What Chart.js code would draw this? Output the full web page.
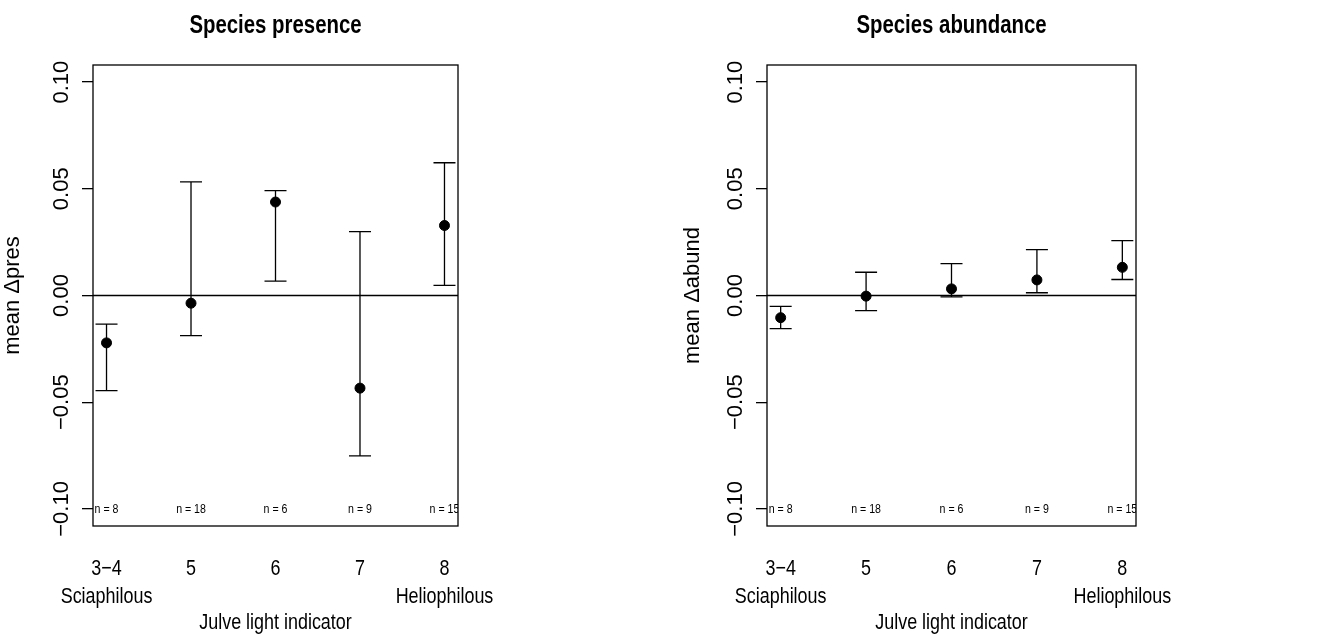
<!DOCTYPE html>
<html>
<head>
<meta charset="utf-8">
<script src="https://cdn.jsdelivr.net/npm/chart.js@4/dist/chart.umd.min.js"></script>
<style>
  body { margin: 0; background: #fff; }
  .panel { position: absolute; top: 0; height: 635px; }
  #leftBox { left: 0; width: 658px; }
  #rightBox { left: 658px; width: 659px; }
</style>
</head>
<body>
<div class="panel" id="leftBox"><canvas id="presChart"></canvas></div>
<div class="panel" id="rightBox"><canvas id="abundChart"></canvas></div>
<script>
// Light indicator classes
const xTicks = [1, 2, 3, 4, 5];
const xLabels = [['3\u22124', 'Sciaphilous'], ['5', ''], ['6', ''], ['7', ''], ['8', 'Heliophilous']];
const yTicks = [-0.1, -0.05, 0, 0.05, 0.1];
const nLabels = ['n = 8', 'n = 18', 'n = 6', 'n = 9', 'n = 15'];
const nLabelY = -0.1;

// Species presence (mean delta + interval)
const presMean = [-0.0222, -0.0036, 0.0438, -0.0434, 0.0328];
const presLow  = [-0.0446, -0.0188, 0.0067, -0.0751, 0.0047];
const presHigh = [-0.0134, 0.0532, 0.0491, 0.0299, 0.0622];

// Species abundance
const abundMean = [-0.0104, -0.0003, 0.0031, 0.0073, 0.0132];
const abundLow  = [-0.0155, -0.0071, -0.0006, 0.0013, 0.0075];
const abundHigh = [-0.0051, 0.0109, 0.0149, 0.0215, 0.0257];

const FONT = '"Liberation Sans", Arial, sans-serif';
const SQUEEZE = 0.815; // horizontal text in the original is condensed

// squeeze horizontal (unrotated) text around its anchor point
function condenseText(canvas) {
    const ctx = canvas.getContext('2d');
    const orig = ctx.fillText;
    ctx.fillText = function (text, x, y, maxWidth) {
        const m = this.getTransform();
        if (Math.abs(m.b) > 1e-6 || Math.abs(m.c) > 1e-6) {
            return maxWidth === undefined ? orig.call(this, text, x, y) : orig.call(this, text, x, y, maxWidth);
        }
        const sx = m.a * x + m.e;
        this.save();
        this.setTransform(SQUEEZE * m.a, 0, 0, m.d, SQUEEZE * m.e + (1 - SQUEEZE) * sx, m.f);
        if (maxWidth === undefined) orig.call(this, text, x, y);
        else orig.call(this, text, x, y, maxWidth);
        this.restore();
    };
    return canvas;
}

// box, zero line, error bars and n labels
const errorBars = {
    id: 'errorBars',
    beforeDatasetsDraw(chart, args, opts) {
        const { ctx, chartArea: a, scales: { x, y } } = chart;
        ctx.save();
        ctx.strokeStyle = '#000';
        ctx.lineWidth = 1.3;
        ctx.strokeRect(a.left, a.top, a.width, a.height);

        const y0 = y.getPixelForValue(0);
        ctx.beginPath();
        ctx.moveTo(a.left, y0);
        ctx.lineTo(a.right, y0);
        ctx.stroke();

        opts.low.forEach((lo, i) => {
            const px = x.getPixelForValue(xTicks[i]);
            const pLo = y.getPixelForValue(lo);
            const pHi = y.getPixelForValue(opts.high[i]);
            ctx.beginPath();
            ctx.moveTo(px, pLo); ctx.lineTo(px, pHi);
            ctx.moveTo(px - 11, pLo); ctx.lineTo(px + 11, pLo);
            ctx.moveTo(px - 11, pHi); ctx.lineTo(px + 11, pHi);
            ctx.stroke();
        });

        ctx.beginPath();
        ctx.rect(a.left, a.top, a.width, a.height);
        ctx.clip();
        ctx.font = '13px ' + FONT;
        ctx.fillStyle = '#000';
        ctx.textAlign = 'center';
        ctx.textBaseline = 'middle';
        nLabels.forEach((t, i) => {
            ctx.fillText(t, x.getPixelForValue(xTicks[i]), y.getPixelForValue(nLabelY));
        });
        ctx.restore();
    }
};

function makePanel(id, title, yTitle, mean, low, high, yWidth, rightPad, yTitlePad) {
    return new Chart(condenseText(document.getElementById(id)), {
        type: 'scatter',
        data: {
            datasets: [{
                data: mean.map((m, i) => ({ x: xTicks[i], y: m })),
                backgroundColor: '#000',
                borderColor: '#000',
                pointRadius: 5,
                pointHoverRadius: 5
            }]
        },
        options: {
            responsive: true,
            maintainAspectRatio: false,
            animation: false,
            events: [],
            layout: { padding: { left: 0, right: rightPad, top: 0, bottom: 0 } },
            plugins: {
                legend: { display: false },
                tooltip: { enabled: false },
                title: {
                    display: true,
                    text: title,
                    fullSize: false,
                    color: '#000',
                    font: { family: FONT, size: 25, weight: 'bold', lineHeight: 1.2 },
                    padding: { top: 11, bottom: 24 }
                },
                errorBars: { low: low, high: high }
            },
            scales: {
                x: {
                    type: 'linear',
                    min: 0.84,
                    max: 5.16,
                    afterBuildTicks: (s) => { s.ticks = xTicks.map(v => ({ value: v })); },
                    afterFit: (s) => { s.height = 109; },
                    grid: { display: false },
                    border: { display: false },
                    ticks: {
                        autoSkip: false,
                        maxRotation: 0,
                        padding: 21,
                        color: '#000',
                        font: { family: FONT, size: 22, lineHeight: '28px' },
                        callback: (v, i) => xLabels[i]
                    },
                    title: {
                        display: true,
                        text: 'Julve light indicator',
                        color: '#000',
                        padding: 0,
                        font: { family: FONT, size: 22, lineHeight: 1.1 }
                    }
                },
                y: {
                    type: 'linear',
                    min: -0.108,
                    max: 0.108,
                    afterBuildTicks: (s) => { s.ticks = yTicks.map(v => ({ value: v })); },
                    afterFit: (s) => { s.width = yWidth; },
                    grid: { drawOnChartArea: false, drawTicks: true, tickLength: 11, color: '#000', lineWidth: 1.3 },
                    border: { display: false },
                    ticks: {
                        minRotation: 90,
                        maxRotation: 90,
                        crossAlign: 'center',
                        padding: -8,
                        color: '#000',
                        font: { family: FONT, size: 22 },
                        callback: (v) => v.toFixed(2).replace('-', '\u2212')
                    },
                    title: {
                        display: true,
                        text: yTitle,
                        color: '#000',
                        padding: { top: yTitlePad, bottom: 0 },
                        font: { family: FONT, size: 22, lineHeight: 1.2 }
                    }
                }
            }
        },
        plugins: [errorBars]
    });
}

makePanel('presChart', 'Species presence', 'mean \u0394pres', presMean, presLow, presHigh, 93, 200, 0);
makePanel('abundChart', 'Species abundance', 'mean \u0394abund', abundMean, abundLow, abundHigh, 109, 181, 22);
</script>
</body>
</html>
